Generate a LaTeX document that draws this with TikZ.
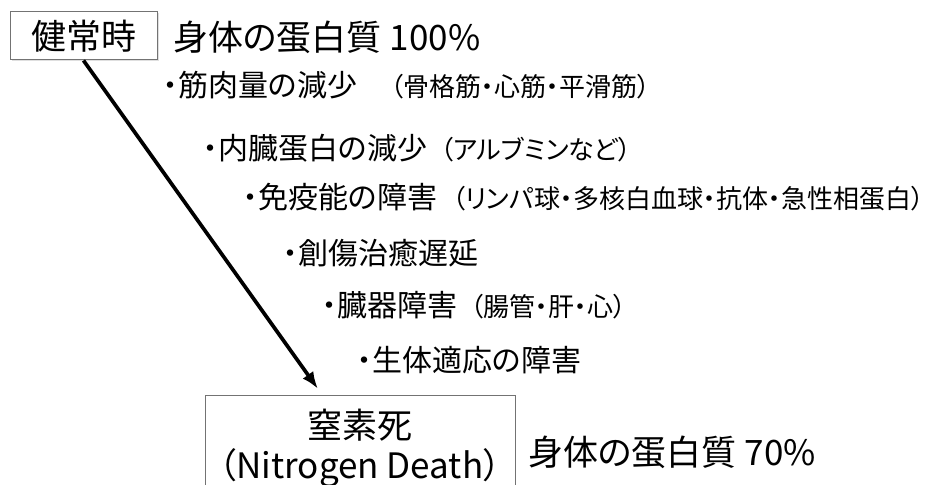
\documentclass[tikz,border=0pt]{standalone}
\usepackage{fontspec}
\setmainfont{Noto Sans CJK JP}[RawFeature={+palt}]
\usetikzlibrary{arrows.meta, positioning, shadows}
\newcommand{\hosoku}[2][13pt]{\hspace{#1}{\fontsize{26}{30}\selectfont #2}}

\begin{document}
\begin{tikzpicture}[
  x=1pt, y=-1pt,
  titlebox/.style={rectangle, draw=black!55, line width=1pt, fill=white,
              minimum width=147pt, minimum height=48pt, inner sep=0pt,
              font=\fontsize{35}{40}\selectfont,
              drop shadow={opacity=0.25, shadow xshift=1.5pt, shadow yshift=-1.5pt}},
  deathbox/.style={rectangle, draw=black!55, line width=1pt, minimum width=310pt,
              minimum height=106pt, inner sep=0pt, align=center,
              font=\fontsize{35}{40}\selectfont},
  bigtext/.style={anchor=west, inner sep=0pt, font=\fontsize{35}{40}\selectfont},
  itemtext/.style={anchor=west, inner sep=0pt, font=\fontsize{30}{34}\selectfont},
  arrow/.style={-{Latex[length=17pt, width=13pt]}, line width=3.7pt, shorten >=7pt}
]
  \useasboundingbox (0,0) rectangle (941,484);
  \clip (0,0) rectangle (941,484);

  % 健常時
  \node[titlebox] (kenjo) at (83.5,36) {健常時};
  \node[bigtext] (p100) at (173,37) {身体の蛋白質 100\%};

  % 項目
  \node[itemtext] (kin) at (163,85) {・筋肉量の減少\hosoku[33pt]{（骨格筋・心筋・平滑筋）}};
  \node[itemtext] (naizo) at (203,148) {・内臓蛋白の減少\hosoku{（アルブミンなど）}};
  \node[itemtext] (meneki) at (243,197) {・免疫能の障害\hosoku[15pt]{（リンパ球・多核白血球・抗体・急性相蛋白）}};
  \node[itemtext] (sosho) at (283,253) {・創傷治癒遅延};
  \node[itemtext] (zoki) at (322,305) {・臓器障害\hosoku{（腸管・肝・心）}};
  \node[itemtext] (tekio) at (357,360) {・生体適応の障害};

  % 窒素死
  \node[deathbox] (death) at (360,448) {窒素死\\（Nitrogen Death）};
  \node[bigtext] (p70) at (528,452) {身体の蛋白質 70\%};

  % 矢印
  \draw[arrow] (kenjo.south) -- ([xshift=-38pt]death.north);

\end{tikzpicture}
\end{document}
